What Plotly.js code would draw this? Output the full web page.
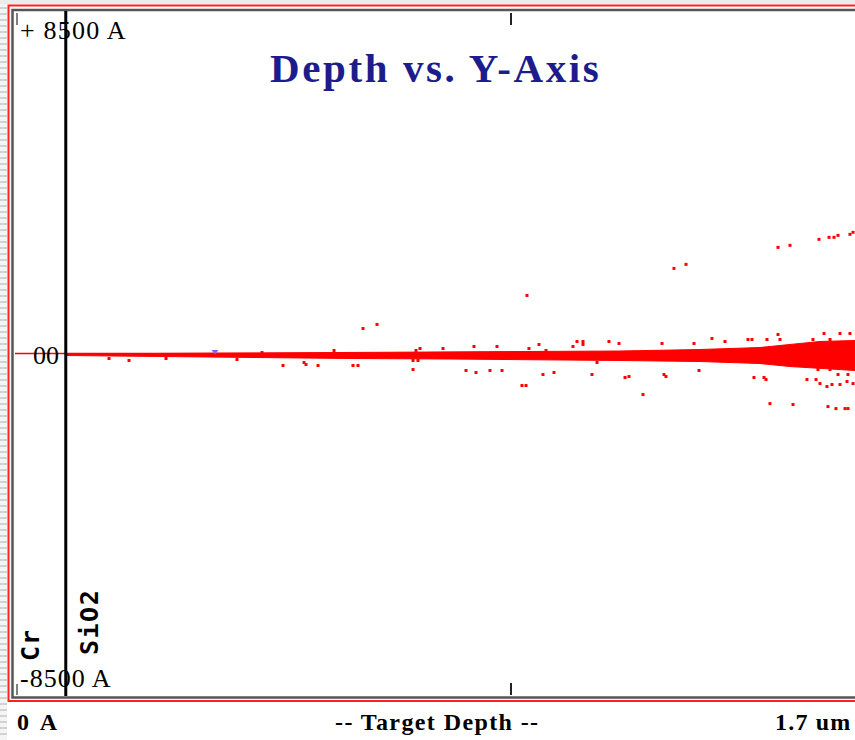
<!DOCTYPE html>
<html>
<head>
<meta charset="utf-8">
<script src="https://cdn.plot.ly/plotly-3.0.1.min.js"></script>
<style>html,body{margin:0;padding:0;background:#fff;}#chart{width:855px;height:740px;}</style>
</head>
<body>
<div id="chart"></div>
<script>
// ---- data (Angstrom) ----
const targetDepth = 17000;          // 1.7 um
const yHalfRange = 8500;
const layerNames = ["Cr", "SiO2"];
const layerBoundary = 870;          // Cr / SiO2 interface depth

// centre trajectory line
const lineDepth = [0, 17000];
const lineY = [0, 0];

// dense ion band envelope
const bandDepth = [870, 2313, 4027, 5741, 7455, 9168, 10368, 11739, 12767, 13281, 13795, 14395];
const bandUpper = [-12, 0, 12, 25, 25, 50, 62, 99, 149, 224, 298, 323];
const bandLower = [-50, -75, -99, -124, -137, -149, -174, -199, -249, -323, -373, -422];

// scattered ion positions
const ionDepth = [11293, 11499, 13076, 13281, 13778, 13950, 14035, 14104, 14309, 14361, 5964, 6204, 8774,
  10762, 12938, 13333, 13932, 14069, 14224, 14275, 8688, 8757,
  10454, 10522, 11122, 11156, 11722, 12664, 12836, 12870, 13572, 13727, 13795, 13915, 14001, 14138, 14258, 14361,
  13761, 13967, 14104, 14275, 4593, 4953, 4987, 5193, 5792, 5878, 6821, 6821, 6906, 7729, 7900, 8140, 8346,
  9048, 9237, 9888, 9974,
  11944, 12167, 13076, 13864, 14138, 14309, 12561, 12630, 12887, 13110, 13675, 13967, 10179, 10351, 11088, 11636,
  4233, 5467, 6872, 6941, 7335, 7866, 8260, 8808, 8980, 9100, 9562, 9631, 9734, 9734,
  1611, 1954, 2588, 3804];
const ionY = [2112, 2212, 2634, 2684, 2833, 2883, 2883, 2932, 2957, 3007, 621, 721, 1441,
  -1019, -1243, -1267, -1317, -1367, -1367, -1367, -795, -795,
  -596, -572, -522, -572, -422, -596, -596, -646, -646, -646, -746, -820, -770, -770, -696, -746,
  -398, -398, -522, -522, -298, -224, -273, -298, -298, -298, -398, -174, -174, -422, -472, -422, -422,
  -522, -472, -522, -224,
  373, 298, 472, 497, 497, 497, 348, 348, 348, 348, 348, 348, 298, 249, 249, 249,
  25, 75, 75, 124, 124, 174, 174, 124, 224, 75, 174, 298, 298, 224,
  -124, -174, -124, -149];

// recoil marker
const recoilDepth = [3427];
const recoilY = [50];

// labels
const titleText = "Depth vs. Y-Axis";
const topLabel = "+ 8500 A";
const bottomLabel = "-8500 A";
const zeroLabel = "00";
const xStartLabel = "0 A";
const xMidLabel = "-- Target Depth --";
const xEndLabel = "1.7 um";

// ---- layout helpers (figure pixels -> paper) ----
const W = 855, H = 740, ML = 15, MR = 0, MT = 11, MB = 44;
const PW = W - ML - MR, PH = H - MT - MB;
const px = v => (v - ML) / PW;
const py = v => (H - MB - v) / PH;
const xMax = PW * (targetDepth / 2) / (511 - ML);

const traces = [
  {x: bandDepth, y: bandUpper, mode: 'lines', line: {color: '#ff0000', width: 1}, hoverinfo: 'skip', showlegend: false},
  {x: bandDepth, y: bandLower, mode: 'lines', fill: 'tonexty', fillcolor: '#ff0000', line: {color: '#ff0000', width: 1}, hoverinfo: 'skip', showlegend: false},
  {x: lineDepth, y: lineY, mode: 'lines', line: {color: '#ff0000', width: 1.5}, showlegend: false},
  {x: ionDepth, y: ionY, mode: 'markers', marker: {color: '#ff0000', size: 3, symbol: 'square'}, showlegend: false},
  {x: recoilDepth, y: recoilY, mode: 'markers', marker: {color: '#8060ff', size: 6, symbol: 'triangle-down'}, showlegend: false}
];

const shapes = [];
// left striped window edge
shapes.push({type: 'rect', xref: 'paper', yref: 'paper', x0: px(0), x1: px(7), y0: py(0), y1: py(740), fillcolor: '#f4f4f4', line: {width: 0}, layer: 'below'});
for (let s = 2; s < 740; s += 6) {
  shapes.push({type: 'line', xref: 'paper', yref: 'paper', x0: px(0), x1: px(7), y0: py(s), y1: py(s), line: {color: '#d2d2d2', width: 2}});
}
shapes.push({type: 'rect', xref: 'paper', yref: 'paper', x0: px(0), x1: px(860), y0: py(0), y1: py(4), fillcolor: '#ececec', line: {width: 0}});
// red frame
shapes.push({type: 'rect', xref: 'paper', yref: 'paper', x0: px(8.5), x1: px(900), y0: py(5.5), y1: py(701), line: {color: '#ff2020', width: 2}});
// sunken inner frame
shapes.push({type: 'rect', xref: 'paper', yref: 'paper', x0: px(12.5), x1: px(900), y0: py(10), y1: py(697.5), line: {color: '#555555', width: 2.5}});
// tick marks
shapes.push({type: 'line', xref: 'paper', yref: 'paper', x0: px(17), x1: px(17), y0: py(13), y1: py(25), line: {color: '#000', width: 1}});
shapes.push({type: 'line', xref: 'paper', yref: 'paper', x0: px(17), x1: px(17), y0: py(684), y1: py(695), line: {color: '#000', width: 1}});
shapes.push({type: 'line', xref: 'x', yref: 'paper', x0: targetDepth / 2, x1: targetDepth / 2, y0: py(13), y1: py(25), line: {color: '#222', width: 2}});
shapes.push({type: 'line', xref: 'x', yref: 'paper', x0: targetDepth / 2, x1: targetDepth / 2, y0: py(683), y1: py(695), line: {color: '#222', width: 2}});
// layer boundary
shapes.push({type: 'line', xref: 'x', yref: 'paper', x0: layerBoundary, x1: layerBoundary, y0: 0, y1: 1, line: {color: '#000', width: 3}});

const serif = 'Liberation Serif, Times New Roman, serif';
const spaced = (t, ls) => '<span style="letter-spacing:' + ls + 'px">' + t + '</span>';
const ann = (text, x, y, xa, size, opts = {}) => Object.assign({
  text: text, xref: 'paper', yref: 'paper', x: px(x), y: py(y), xanchor: xa, yanchor: 'middle',
  showarrow: false, font: {family: serif, size: size, color: '#000'}
}, opts);
const bold = (size, color) => ({font: {family: serif, size: size, color: color || '#000', weight: 'bold'}});
const mono = size => ({textangle: -90, font: {family: 'DejaVu Sans Mono, monospace', size: size, color: '#000', weight: 'bold'}});

const annotations = [
  ann(spaced(titleText, 2.6), 435, 68, 'center', 41, bold(41, '#1c1c8c')),
  ann(spaced(topLabel, 1.2), 18, 31, 'left', 26),
  ann(spaced(bottomLabel, 1.0), 18, 678, 'left', 26),
  ann(zeroLabel, 46, 356, 'center', 26),
  ann(spaced(xStartLabel, 3), 15, 722, 'left', 24, bold(24)),
  ann(spaced(xMidLabel, 1.4), 437, 722, 'center', 24, bold(24)),
  ann(spaced(xEndLabel, 1.2), 854, 722, 'right', 24, bold(24)),
  ann(spaced(layerNames[0], 1), 30, 645, 'center', 25, mono(25)),
  ann(spaced(layerNames[1], 1.5), 89, 622, 'center', 25, mono(25))
];

const layout = {
  width: W, height: H,
  margin: {l: ML, r: MR, t: MT, b: MB, pad: 0},
  paper_bgcolor: '#ffffff', plot_bgcolor: '#ffffff',
  xaxis: {range: [0, xMax], showgrid: false, zeroline: false, showticklabels: false, showline: false, ticks: '', fixedrange: true},
  yaxis: {range: [-yHalfRange, yHalfRange], showgrid: false, zeroline: false, showticklabels: false, showline: false, ticks: '', fixedrange: true},
  shapes: shapes, annotations: annotations, showlegend: false
};

Plotly.newPlot('chart', traces, layout, {staticPlot: true, displayModeBar: false});
</script>
</body>
</html>
